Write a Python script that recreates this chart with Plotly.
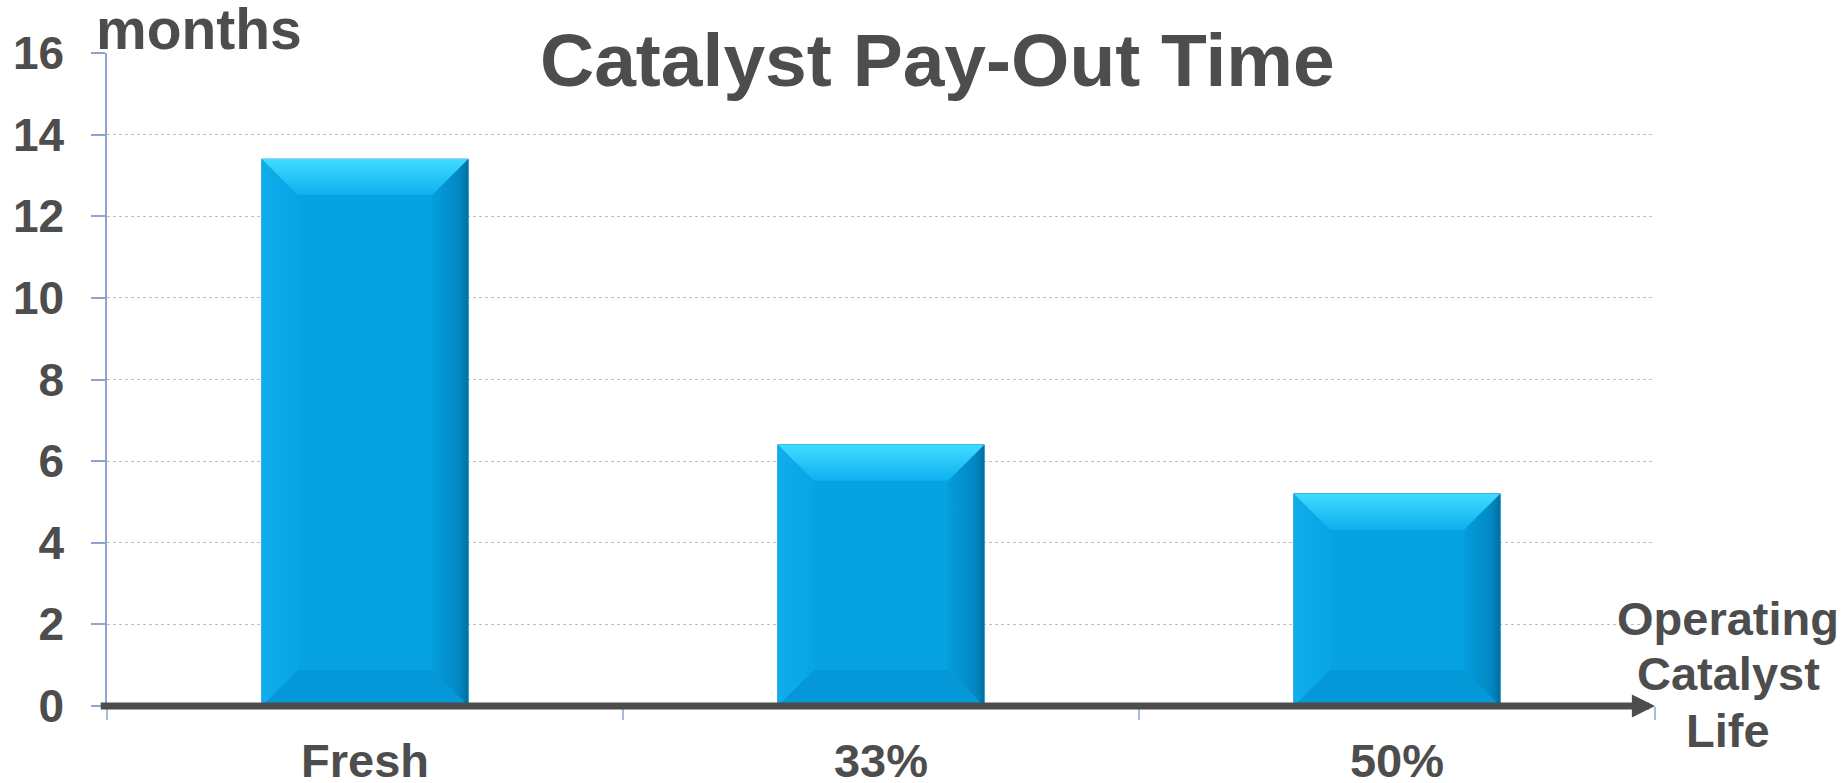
import plotly.graph_objects as go

# Pay-out time per catalyst state
categories = ["Fresh", "33%", "50%"]
payout_months = [13.4, 6.4, 5.2]
y_ticks = [0, 2, 4, 6, 8, 10, 12, 14, 16]

FONT = "Liberation Sans, Arial, sans-serif"
TEXT = "#4d4d4d"
BAR = "#06a2e2"
BAR_W = 0.4          # bar width in category units
BEV_X = 0.07         # bevel depth, horizontal (category units)
BEV_Y = 0.88         # bevel depth, vertical (months)

xpos = list(range(len(categories)))

fig = go.Figure()
fig.add_trace(go.Bar(
    x=xpos, y=payout_months, width=BAR_W,
    marker=dict(color=BAR, line=dict(color="#0a8fcc", width=1)),
    hoverinfo="skip", showlegend=False,
))


def facet(xs, ys, grad=None, color=None):
    kw = dict(x=xs, y=ys, mode="lines", fill="toself", line=dict(width=0),
              hoverinfo="skip", showlegend=False)
    if grad:
        kw["fillgradient"] = grad
    else:
        kw["fillcolor"] = color
    fig.add_trace(go.Scatter(**kw))


# bevelled faces on each bar
for xc, v in zip(xpos, payout_months):
    x0, x1 = xc - BAR_W / 2, xc + BAR_W / 2
    ix0, ix1 = x0 + BEV_X, x1 - BEV_X
    iy0, iy1 = BEV_Y, v - BEV_Y
    # bottom face
    facet([x0, x1, ix1, ix0, x0], [0, 0, iy0, iy0, 0], color="#0598d8")
    # left face
    facet([x0, ix0, ix0, x0, x0], [0, iy0, iy1, v, 0],
          grad=dict(type="horizontal", colorscale=[[0, "#10adec"], [1, "#08a5e4"]]))
    # right face
    facet([x1, ix1, ix1, x1, x1], [0, iy0, iy1, v, 0],
          grad=dict(type="horizontal", colorscale=[[0, "#049ddc"], [0.75, "#0288c4"], [1, "#016f9e"]]))
    # top face
    facet([x0, x1, ix1, ix0, x0], [v, v, iy1, iy1, v],
          grad=dict(type="vertical", colorscale=[[0, "#0eb0ef"], [1, "#40dcff"]]))

fig.update_layout(
    width=1843, height=783,
    margin=dict(l=107, r=188, t=53, b=77, autoexpand=False),
    paper_bgcolor="white", plot_bgcolor="white",
    font=dict(family=FONT, color=TEXT),
    showlegend=False,
    xaxis=dict(
        range=[-0.5, 2.5], fixedrange=True, showgrid=False, zeroline=False,
        showline=False, automargin=False,
        tickmode="array", tickvals=xpos, ticktext=categories,
        ticks="outside", ticklen=0,
        tickfont=dict(family=FONT, size=47, color=TEXT, weight="bold"),
        ticklabelstandoff=14,
        minor=dict(tickmode="array", tickvals=[-0.5, 0.5, 1.5, 2.5],
                   ticks="outside", ticklen=13, tickwidth=1.5,
                   tickcolor="#a8badf", showgrid=False),
    ),
    yaxis=dict(
        range=[0, 16], fixedrange=True, automargin=False,
        tickmode="array", tickvals=y_ticks,
        ticks="outside", ticklen=14, tickwidth=1.5, tickcolor="#8da4cf",
        showline=True, linecolor="#8da4cf", linewidth=1.5,
        showgrid=True, gridcolor="#bdbdbd", griddash="dot", gridwidth=1.2,
        zeroline=False,
        tickfont=dict(family=FONT, size=46, color=TEXT, weight="bold"),
        ticklabelstandoff=18,
    ),
)

# horizontal axis drawn as a thick arrow
fig.add_annotation(
    x=2.5, y=0, xref="x", yref="y",
    ax=-0.515, ay=0, axref="x", ayref="y",
    text="", showarrow=True, arrowhead=2, arrowsize=0.66,
    arrowwidth=7, arrowcolor=TEXT, standoff=0,
)

fig.add_annotation(
    text="<b>Catalyst Pay-Out Time</b>", xref="paper", yref="paper",
    x=0.5365, y=0.9887, xanchor="center", yanchor="middle", showarrow=False,
    font=dict(family=FONT, size=75, color=TEXT),
)
fig.add_annotation(
    text="<b>months</b>", xref="paper", yref="paper",
    x=-0.0085, y=1.0368, xanchor="left", yanchor="middle", showarrow=False,
    font=dict(family=FONT, size=57, color=TEXT),
)
for line, yp in zip(["Operating", "Catalyst", "Life"], [0.1337, 0.0495, -0.0378]):
    fig.add_annotation(
        text=f"<b>{line}</b>", xref="paper", yref="paper",
        x=1.0472, y=yp, xanchor="center", yanchor="middle", showarrow=False,
        font=dict(family=FONT, size=47, color=TEXT),
    )

fig.write_html("out.html")
